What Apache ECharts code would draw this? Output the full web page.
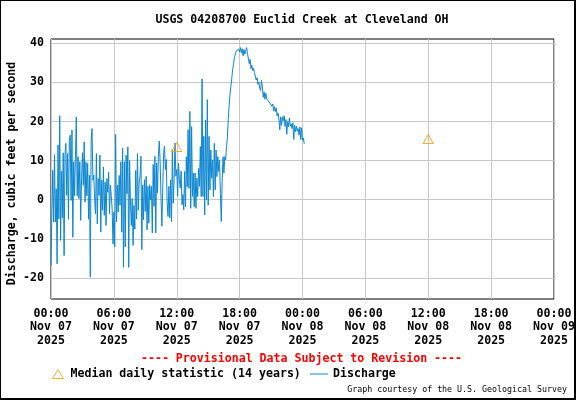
<!DOCTYPE html>
<html><head><meta charset="utf-8">
<script src="https://cdn.jsdelivr.net/npm/echarts@6/dist/echarts.min.js"></script>
<style>html,body{margin:0;padding:0;background:#fff}#c{width:576px;height:400px}</style>
</head><body><div id="c"></div>
<script>
const chartTitle = 'USGS 04208700 Euclid Creek at Cleveland OH';
const yAxisTitle = 'Discharge, cubic feet per second';
const provisionalNote = '---- Provisional Data Subject to Revision ----';
const creditNote = 'Graph courtesy of the U.S. Geological Survey';
const medianName = 'Median daily statistic (14 years)';
const dischargeName = 'Discharge';

const xTickLabels = [
  '00:00\nNov 07\n2025', '06:00\nNov 07\n2025', '12:00\nNov 07\n2025', '18:00\nNov 07\n2025',
  '00:00\nNov 08\n2025', '06:00\nNov 08\n2025', '12:00\nNov 08\n2025', '18:00\nNov 08\n2025',
  '00:00\nNov 09\n2025'
];
const yTickValues = [-20, -10, 0, 10, 20, 30, 40];

// hours since 00:00 Nov 07, 5-minute readings
const stepMinutes = 5;
const dischargeValues = [
  -16.8, -3.6, 7.5, -5.7, 11.5, -5.7, 2.8, -16.4, 14, -4.9,
  21.5, -10.4, 7.3, -4.7, 12, -14.3, 11.5, 14.4, 1.1, 11.8,
  -5, 15.2, 16.5, -0.2, 17.8, -9.6, 9.7, 1, 11.4, 21.2,
  1, 11, 0.3, 9.7, -5.3, 5.4, 12, 3.7, 14.8, -0.6,
  9.7, 1, 9.3, -5, 6.3, -19.8, 15.2, 18.2, 5, 6.3,
  -0.2,
  -3.6, 11.8, -6.2, 5.4, 1.1, 11.4, -8.3, 5, -2.7, 8.4,
  -4, 4.5, -6.6, 5.4, 1.9, 7, -3.6, 3.7, 1.1, -2.3,
  -11.3, -3.2, -12.1, 16.7, -5.7, 3.7, -3.2, 6.2, -1.4, 9.7,
  -8.3, 13.2, -17.3, 9.7, -12.1, 11.4, 1.5, 13.5, -17.3, 10,
  -0.6, -6.6, 0.3, -11.7, -1.5, -7.5, 7.5, -4.9, 11.8, -2.7, 4.5,
  6, 11.1, -12.8, 3.8, -5.1, 5.1, -3, 6, -7.7, 3.4,
  -6, 3.8, 0, 3.4, -8.5, 9, -1.7, 11.1, -8.5, 9.4,
  1.7, 11.5, 15, 9.4, 0, -6.8, 3.4, 12, 13.7, 7.7,
  10.3, -0.9, -4.3, 3.4, -4.7, 5.1, -5.6, 12.8, -0.9, 5.1,
  14.5, 6, 7.7, 0.9, 9.4, 5.1, 3, 7.3, -1.3, 1.3,
  -2.6, 7.2, -1.8, 11, 3.3, 17.9, 2.9, 22.6, -2.2, 18.7,
  0.8, 6.8, -1.8, 6.8, -2.2, 5.5, 0.8, 8, 3.4, 13.6,
  0.8, 30.9, 0.8, 16.2, -3.9, 20.4, 0, 25.6, -1.4, 16.2,
  2.5, 12.7, 5.5, 10.2, 0.8, 14.4, 2.5, 12.7, 5.9, 11,
  7.2, 10.2, 1.6, -5.6, 5, 11,
  6.8, 11, 10.2, 13.6, 16, 20.5, 24, 27, 29, 31,
  33.3, 34.5, 36.3, 37.2, 38, 37.6, 38.2, 38.5, 37.8, 38.9,
  37.5, 38.6, 36.8, 38.4, 37.2, 38.2, 38.9, 37.4, 37.2, 34.8,
  35.9, 33.5, 34.4, 33, 33.6, 32.5, 32.2, 30.6, 31.2, 29.5,
  30.1, 28.6, 27.9, 30.5, 28.9, 26.2, 27.6, 25.7, 27.2, 25.8,
  26.3, 25.2, 25.6, 24.6, 25, 23.9, 24.5, 22.7, 23.8, 22.5,
  23.5, 21.4, 22.2, 20.6, 17.9, 21.2, 19, 21.2, 20.2, 21.5,
  18.7, 20.5, 16.7, 20, 18.6, 20.9, 18.8, 19.4, 18.2, 19.7,
  15.4, 19, 17.4, 18.8, 17.5, 18.2, 16.5, 18.6, 15.4, 18.4,
  15.2, 15.8, 14.3
];
const medianHours = [12, 36];
const medianValues = [13.5, 15.5];

const FONT = 'DejaVu Sans Mono';
const FS = 11.6;
const blue = '#0B86D0';
const orange = '#F59B00';

const dischargeData = dischargeValues.map((v, i) => [i * stepMinutes / 60, v]);
const medianData = medianHours.map((h, i) => [h, medianValues[i]]);

const legendText = {fontFamily: FONT, fontSize: FS, fontWeight: 'bold', color: '#000'};
const hollowOrange = {color: 'rgba(0,0,0,0)', borderColor: orange, borderWidth: 1};

const chart = echarts.init(document.getElementById('c'), null, {renderer: 'canvas'});
chart.setOption({
  animation: false,
  backgroundColor: '#fff',
  title: {
    text: chartTitle, left: 302, top: 13, textAlign: 'center', padding: 0,
    textStyle: {fontFamily: FONT, fontSize: FS, fontWeight: 'bold', color: '#000', lineHeight: 14}
  },
  grid: {left: 51, right: 22, top: 39, bottom: 101, show: true, borderColor: '#000', borderWidth: 1,
    backgroundColor: 'transparent', outerBoundsMode: 'none', containLabel: false},
  xAxis: {
    type: 'value', min: 0, max: 48, interval: 6,
    axisLine: {show: false}, axisTick: {show: false},
    splitLine: {show: true, lineStyle: {color: '#C8C8C8', width: 1}},
    axisLabel: {
      margin: 8, fontFamily: FONT, fontSize: FS, fontWeight: 'bold', color: '#000', lineHeight: 13.5,
      formatter: v => xTickLabels[Math.round(v / 6)] || ''
    }
  },
  yAxis: {
    type: 'value', min: -25.4, max: 41.1,
    axisLine: {show: false},
    axisTick: {show: false, customValues: yTickValues},
    splitLine: {show: true, lineStyle: {color: '#C8C8C8', width: 1}},
    axisLabel: {customValues: yTickValues, margin: 7, fontFamily: FONT, fontSize: FS, fontWeight: 'bold', color: '#000'}
  },
  legend: [
    {
      left: 52, top: 368, padding: 0, itemWidth: 11, itemHeight: 9,
      textStyle: Object.assign({padding: [0, 0, 0, 2]}, legendText),
      data: [{name: medianName, icon: 'triangle', itemStyle: hollowOrange}]
    },
    {
      left: 310, top: 368, padding: 0, itemWidth: 18, itemHeight: 9,
      textStyle: legendText,
      data: [{name: dischargeName, icon: 'path://M0,0L18,0L18,1L0,1Z'}]
    }
  ],
  series: [
    {
      name: dischargeName, type: 'line', data: dischargeData, showSymbol: false, symbol: 'none',
      lineStyle: {color: blue, width: 1}, itemStyle: {color: blue}, z: 2
    },
    {
      name: medianName, type: 'scatter', data: medianData, symbol: 'triangle', symbolSize: [10, 9],
      itemStyle: hollowOrange, z: 3
    }
  ],
  graphic: [
    {type: 'rect', shape: {x: 0, y: 0, width: 575, height: 399}, style: {fill: 'none', stroke: '#000', lineWidth: 2}, silent: true},
    {type: 'text', x: 12, y: 173.5, rotation: Math.PI / 2,
      style: {text: yAxisTitle, fontFamily: FONT, fontSize: FS, fontWeight: 'bold', fill: '#000', align: 'center', verticalAlign: 'middle'}},
    {type: 'text', x: 301.5, y: 359,
      style: {text: provisionalNote, fontFamily: FONT, fontSize: FS, fontWeight: 'bold', fill: '#FF0000', align: 'center', verticalAlign: 'middle'}},
    {type: 'text', x: 567, y: 390,
      style: {text: creditNote, fontFamily: FONT, fontSize: 8.3, fill: '#000', align: 'right', verticalAlign: 'middle'}}
  ]
});
</script>
</body></html>
